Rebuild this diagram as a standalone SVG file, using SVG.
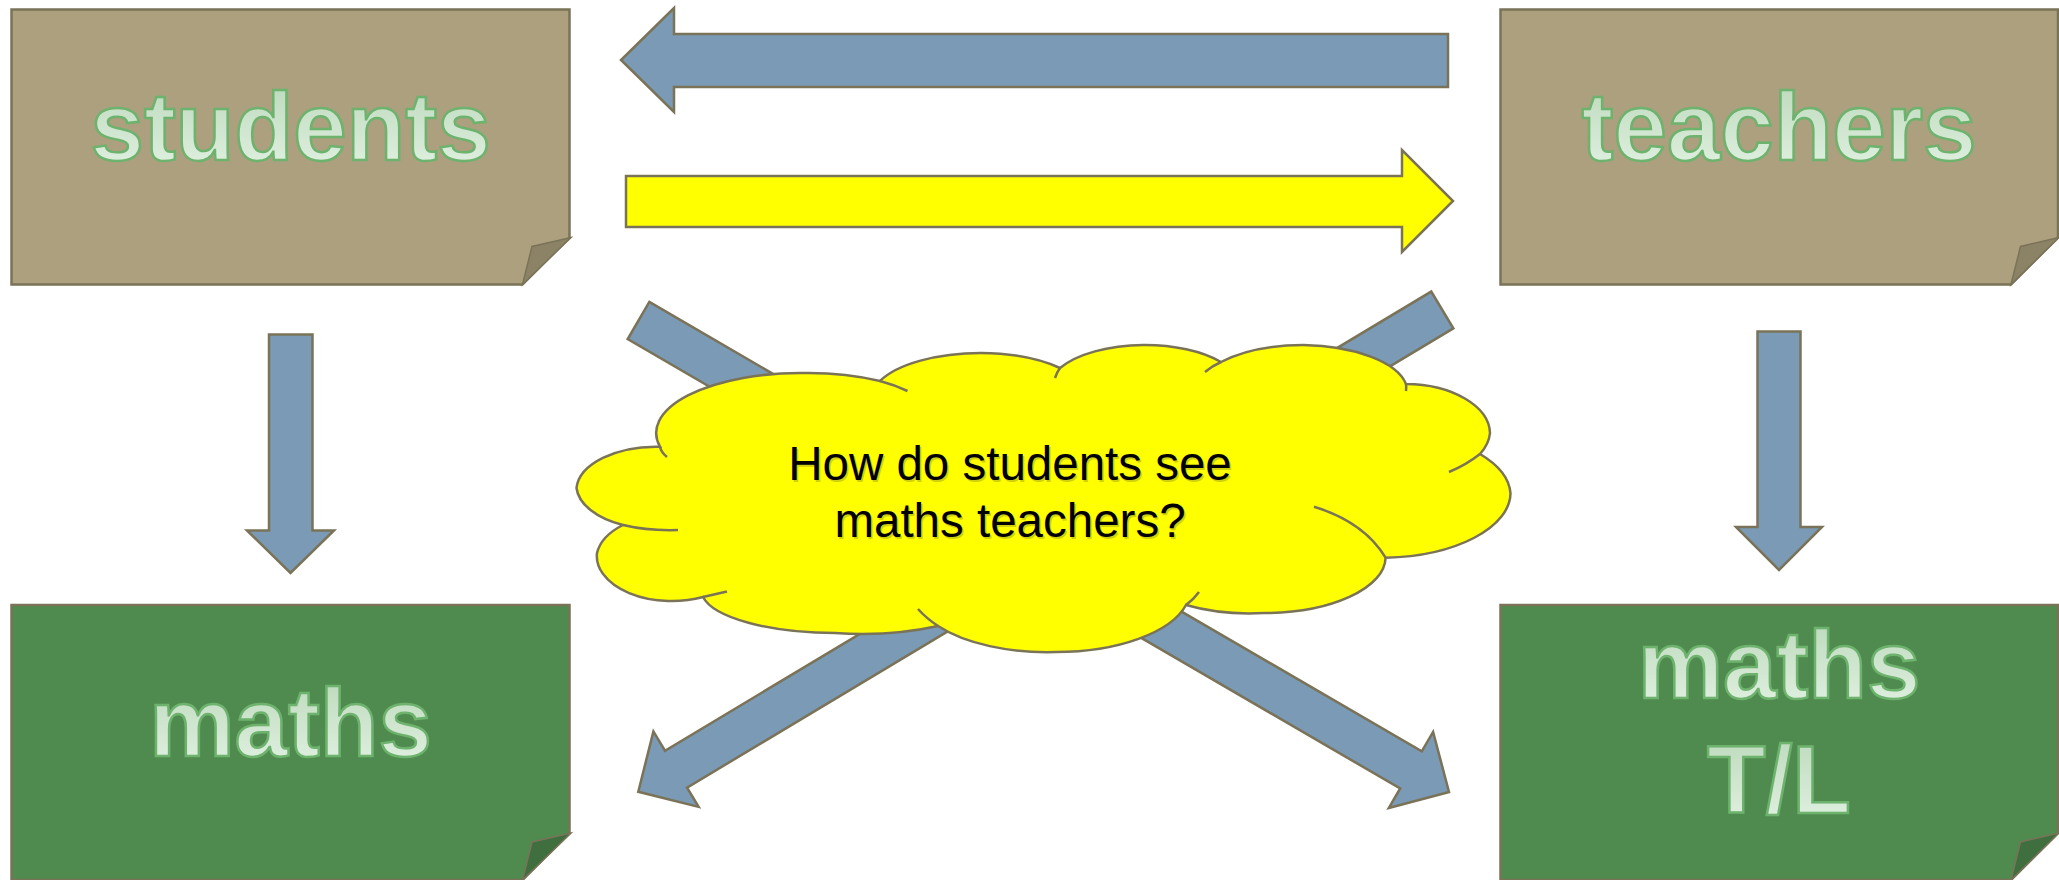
<svg xmlns="http://www.w3.org/2000/svg" width="2059" height="880" viewBox="0 0 2059 880">
<defs>
<linearGradient id="tg" x1="0" y1="0" x2="0" y2="1">
<stop offset="0" stop-color="#B9D8B9"/>
<stop offset="1" stop-color="#E4F2E4"/>
</linearGradient>
<style>
.tan{fill:#ACA07E;stroke:#7A7358;stroke-width:2.5}
.tanf{fill:#8C8266;stroke:#7A7358;stroke-width:1.5}
.grn{fill:#4F8A4F;stroke:#7A7358;stroke-width:2.5}
.grnf{fill:#3F6F3F;stroke:#7A7358;stroke-width:1.5}
.lbl{font-family:"Liberation Sans",Arial,sans-serif;font-weight:bold;font-size:96px;fill:url(#tg);stroke:#6DB36D;stroke-width:2.5;text-anchor:middle}
.blue{fill:#7A9AB6;stroke:#7A7358;stroke-width:2.5;stroke-linejoin:miter}
.yel{fill:#FFFF00;stroke:#7A7358;stroke-width:2.5}
.cl{fill:#FFFF00;stroke:#7A7358;stroke-width:2.5}
.stub{fill:none;stroke:#7A7358;stroke-width:2.5}
.ct{font-family:"Liberation Sans",Arial,sans-serif;font-size:47.5px;text-anchor:middle}
</style>
</defs>
<rect width="2059" height="880" fill="#FFFFFF"/>

<g id="students">
<path class="tan" d="M11.5,9.5 H569.5 V237.5 L522.5,284.5 H11.5 Z"/>
<path class="tanf" d="M522.5,284.5 L532,246.5 L571,237.5 Z"/>
<text class="lbl" x="290.5" y="160">students</text>
</g>

<g id="teachers">
<path class="tan" d="M1500.5,9.5 H2058 V237.5 L2011,284.5 H1500.5 Z"/>
<path class="tanf" d="M2011,284.5 L2020.5,246.5 L2059,237.5 Z"/>
<text class="lbl" x="1779" y="160">teachers</text>
</g>

<g id="maths">
<path class="grn" d="M11.5,605 H569.5 V833 L522.5,880 H11.5 Z"/>
<path class="grnf" d="M522.5,880 L532,842 L571,833 Z"/>
<text class="lbl" x="290.5" y="756">maths</text>
</g>

<g id="mathsTL">
<path class="grn" d="M1500.5,605 H2058 V833 L2011,880 H1500.5 Z"/>
<path class="grnf" d="M2011,880 L2020.5,842 L2059,833 Z"/>
<text class="lbl" x="1779" y="698">maths</text>
<text class="lbl" x="1779" y="813">T/L</text>
</g>

<g id="connectors">
<path class="blue" d="M1448,34 H674 V8 L621,60 L674,112 V87 H1448 Z"/>
<path class="yel" d="M626,176 H1402 V150 L1453,201 L1402,252 V227 H626 Z"/>
<path class="blue" d="M269,334.5 H312.5 V530.5 H334 L290.5,573 L247,530.5 H269 Z"/>
<path class="blue" d="M1757.5,331.5 H1800.5 V527 H1822 L1779,570 L1736,527 H1757.5 Z"/>
<polygon class="blue" transform="translate(638.5,320.5) rotate(30.19)" points="0,-21.5 893.7,-21.5 893.7,-44 937.7,0 893.7,44 893.7,21.5 0,21.5"/>
<polygon class="blue" transform="translate(1442.3,310) rotate(149.07)" points="0,-21.5 893.3,-21.5 893.3,-44 937.3,0 893.3,44 893.3,21.5 0,21.5"/>
</g>

<g id="cloud">
<path class="cl" d="M623,525 A80,44 0 0 1 576.5,488 A80,44 0 0 1 660,446.7 A144,60 0 0 1 803.6,373 A144,60 0 0 1 880,381 A110,46 0 0 1 981,353 A110,46 0 0 1 1060,368 A97,45 0 0 1 1143,345 A97,45 0 0 1 1221,362 A108,47 0 0 1 1303.5,345 A108,47 0 0 1 1406,384 A85,50 0 0 1 1490,433 A85,50 0 0 1 1480,454 A130,65 0 0 1 1510.5,493.3 A130,65 0 0 1 1385.6,557.7 A121,56 0 0 1 1264,613 A121,56 0 0 1 1186,605 A134,62 0 0 1 1056,652 A134,62 0 0 1 938,626 A134,43 0 0 1 835,633 A134,43 0 0 1 703,597 A75,45 0 0 1 597,553 A75,45 0 0 1 623,525 Z"/>
<path class="stub" d="M660,446.7 Q661,452 667,457"/>
<path class="stub" d="M623,525 Q648,531 678,530"/>
<path class="stub" d="M703,597 Q716,594 727,591.5"/>
<path class="stub" d="M938,626 Q926,618 918,609"/>
<path class="stub" d="M1186,605 Q1194,599 1199,592"/>
<path class="stub" d="M1385.6,557.7 Q1364,522 1314,506.7"/>
<path class="stub" d="M1480,454 Q1466,465 1449,472"/>
<path class="stub" d="M1406,384 Q1406.5,387 1406,391"/>
<path class="stub" d="M1221,362 Q1212,366 1205,372"/>
<path class="stub" d="M1060,368 Q1057,372 1055,378"/>
<path class="stub" d="M880,381 Q895,385 907.5,391"/>
<text class="ct" x="1011.5" y="481.5" fill="#9A9A20" opacity="0.45">How do students see</text>
<text class="ct" x="1011.5" y="538.5" fill="#9A9A20" opacity="0.45">maths teachers?</text>
<text class="ct" x="1010" y="480" fill="#000000">How do students see</text>
<text class="ct" x="1010" y="537" fill="#000000">maths teachers?</text>
</g>
</svg>
